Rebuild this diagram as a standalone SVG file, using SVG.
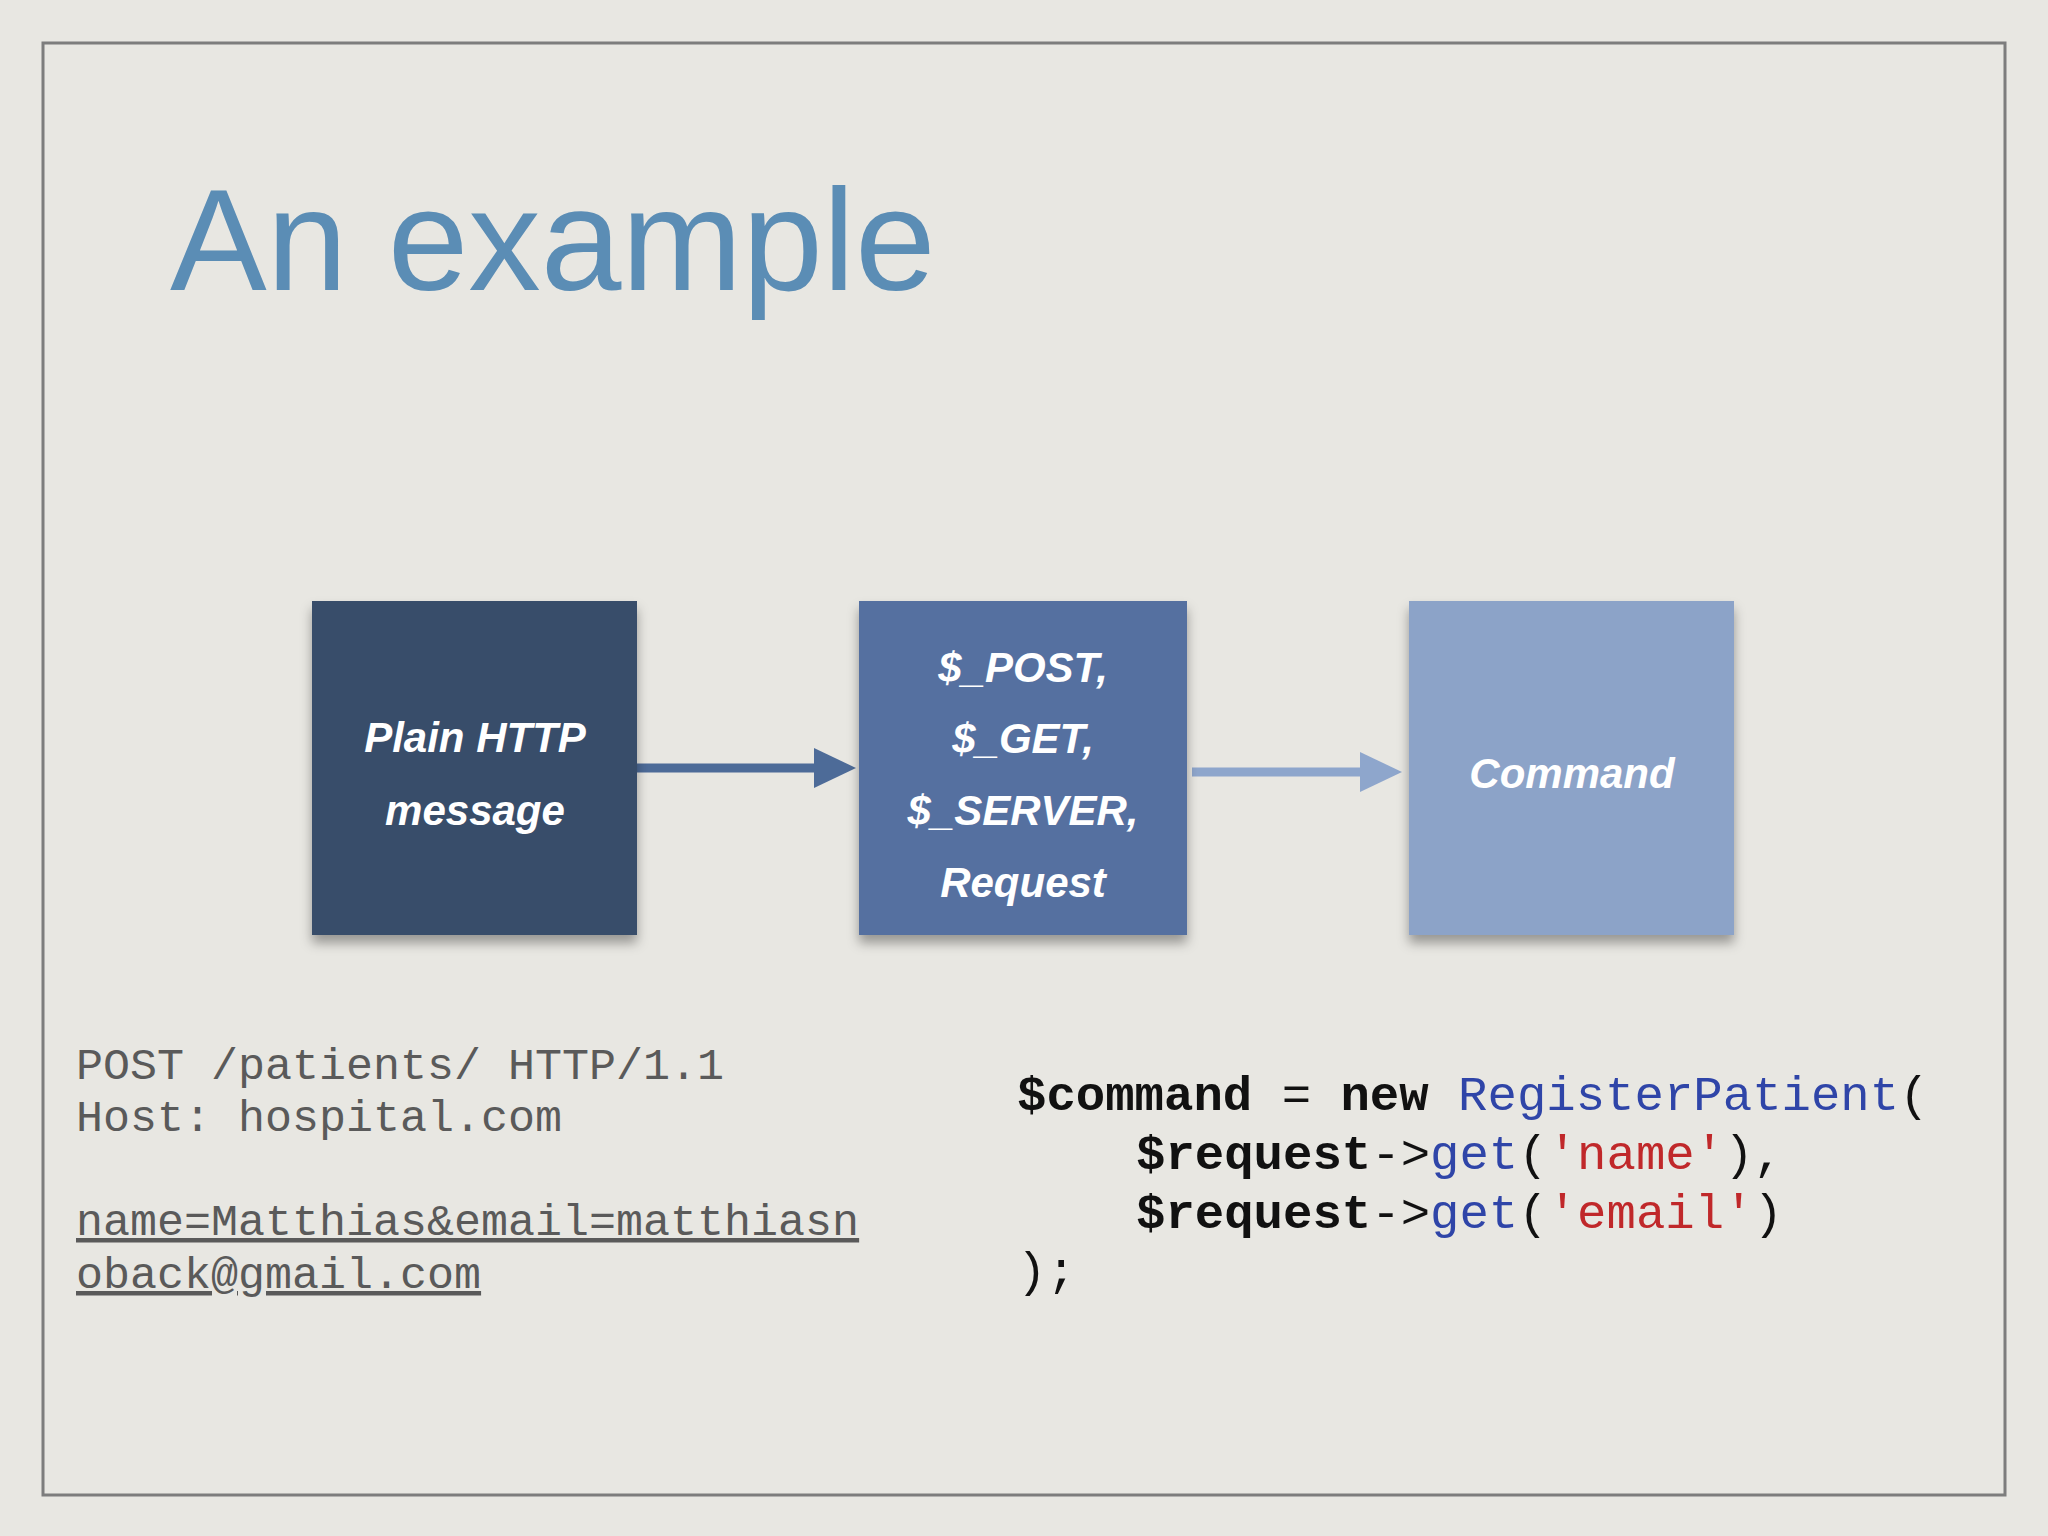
<svg xmlns="http://www.w3.org/2000/svg" width="2048" height="1536" viewBox="0 0 2048 1536">
<defs>
<style>
.box{stroke:none}
.lbl{font-family:"Liberation Sans",Arial,sans-serif;font-size:42px;fill:#fff;text-anchor:middle;font-style:italic;font-weight:bold}
.mono{font-family:"Liberation Mono","Courier New",monospace;white-space:pre}
.l{font-size:45px;fill:#5a5a5a}
.r{font-size:49px;fill:#111}
.b{font-weight:bold}
.bl{fill:#2f45a8}
.rd{fill:#c0282a}
</style>
<marker id="a1" markerWidth="10" markerHeight="10" refX="9" refY="5" orient="auto" markerUnits="userSpaceOnUse" viewBox="0 0 10 10"><path d="M0,0L10,5L0,10z" fill="#4d6b98"/></marker>
<filter id="sh" x="-10%" y="-10%" width="120%" height="130%"><feDropShadow dx="0" dy="8" stdDeviation="6" flood-color="#000" flood-opacity="0.35"/></filter>
</defs>
<rect width="2048" height="1536" fill="#e8e7e2"/>
<rect x="43" y="43" width="1962" height="1452" fill="none" stroke="#7d7d7d" stroke-width="3"/>
<text x="170" y="290" font-family="Liberation Sans,Arial,sans-serif" font-size="145" fill="#5b8db5">An example</text>
<g id="connectors">
<line x1="637" y1="768" x2="820" y2="768" stroke="#4d6b98" stroke-width="9"/>
<path d="M814,748L856,768L814,788z" fill="#4d6b98"/>
<line x1="1192" y1="772" x2="1366" y2="772" stroke="#8ea6cc" stroke-width="9"/>
<path d="M1360,752L1402,772L1360,792z" fill="#8ea6cc"/>
</g>
<g id="n1"><rect class="box" x="312" y="601" width="325" height="334" fill="#374d6a" filter="url(#sh)"/>
<text class="lbl" x="475" y="752">Plain HTTP</text><text class="lbl" x="475" y="825">message</text></g>
<g id="n2"><rect class="box" x="859" y="601" width="328" height="334" fill="#5470a0" filter="url(#sh)"/>
<text class="lbl" x="1023" y="682">$_POST,</text><text class="lbl" x="1023" y="753">$_GET,</text><text class="lbl" x="1023" y="825">$_SERVER,</text><text class="lbl" x="1023" y="897">Request</text></g>
<g id="n3"><rect class="box" x="1409" y="601" width="325" height="334" fill="#8ca3c8" filter="url(#sh)"/>
<text class="lbl" x="1572" y="788">Command</text></g>
<g id="code-left" class="mono l">
<text x="76" y="1079">POST /patients/ HTTP/1.1</text>
<text x="76" y="1131">Host: hospital.com</text>
<text x="76" y="1235" text-decoration="underline">name=Matthias&amp;email=matthiasn</text>
<text x="76" y="1288" text-decoration="underline">oback@gmail.com</text>
</g>
<g id="code-right" class="mono r">
<text x="1017" y="1110"><tspan class="b">$command</tspan> = <tspan class="b">new</tspan> <tspan class="bl">RegisterPatient</tspan>(</text>
<text x="1136" y="1169"><tspan class="b">$request</tspan>-&gt;<tspan class="bl">get</tspan>(<tspan class="rd">'name'</tspan>),</text>
<text x="1136" y="1228"><tspan class="b">$request</tspan>-&gt;<tspan class="bl">get</tspan>(<tspan class="rd">'email'</tspan>)</text>
<text x="1017" y="1286">);</text>
</g>
</svg>
